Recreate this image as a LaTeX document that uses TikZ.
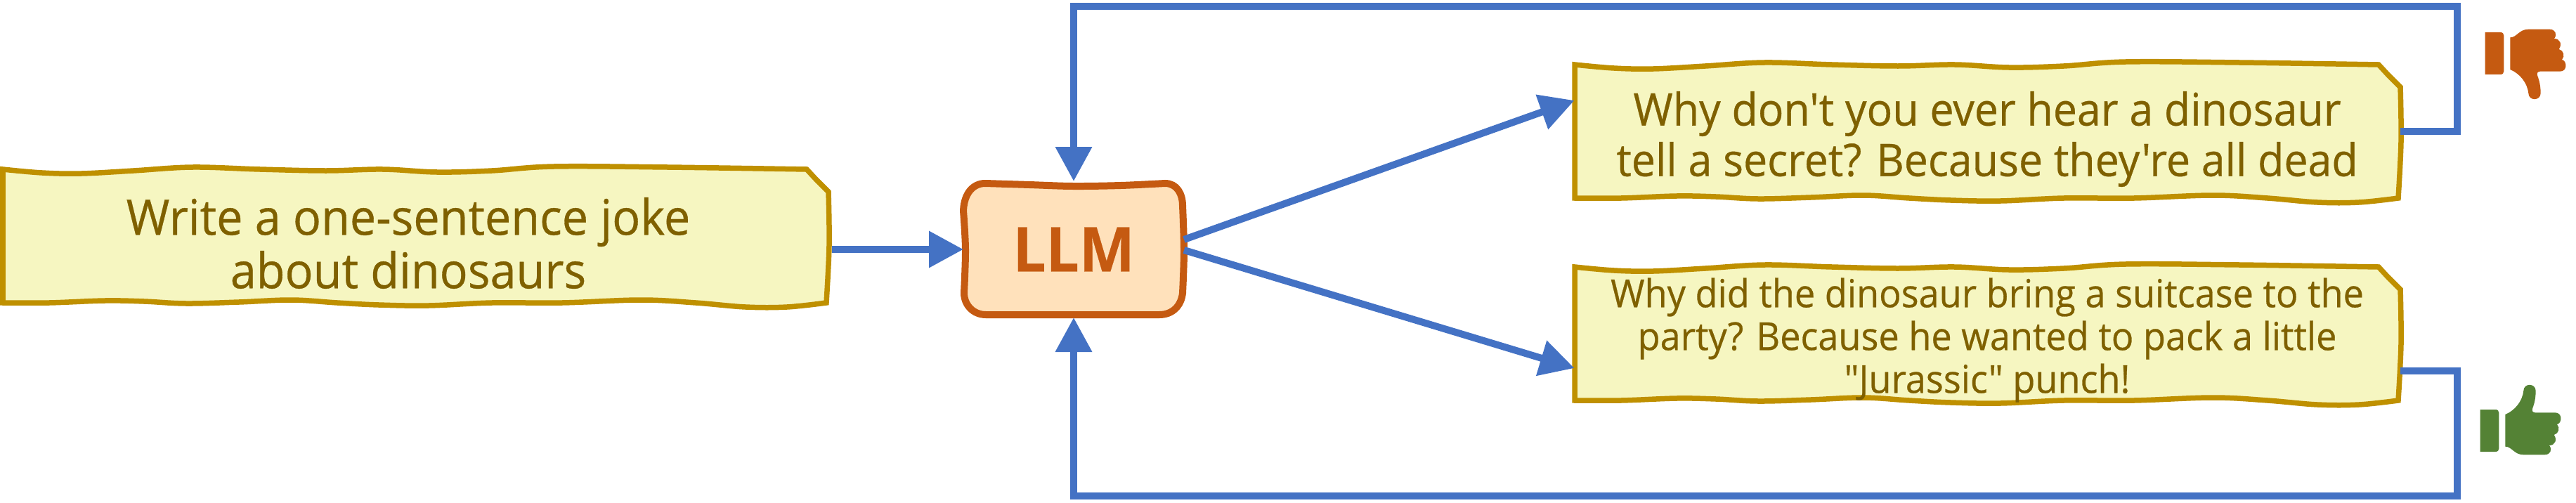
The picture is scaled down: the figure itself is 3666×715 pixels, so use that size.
\documentclass[tikz,border=0pt]{standalone}
\usepackage{fontspec}
\newfontfamily\notefont[FakeBold=0.5,FakeStretch=0.95]{Open Sans}
\newfontfamily\llmfont[FakeBold=0.3,FakeStretch=0.95]{Open Sans Bold}
\usetikzlibrary{arrows.meta}
\definecolor{noteF}{HTML}{F6F6C1}
\definecolor{noteD}{HTML}{BF9000}
\definecolor{noteT}{HTML}{7F6000}
\definecolor{llmF}{HTML}{FFE1BB}
\definecolor{llmD}{HTML}{C55A11}
\definecolor{flowC}{HTML}{4472C4}
\definecolor{upC}{HTML}{548235}
\tikzset{
  notepath/.style={fill=noteF,draw=noteD,line width=7.5pt,line join=miter},
  anchorbox/.style={inner sep=0pt,outer sep=0pt,minimum width=1175pt,minimum height=190pt},
  notetext/.style={text=noteT,align=center,inner sep=0pt},
  flow/.style={draw=flowC,line width=10pt,line join=miter,-{Triangle[length=49pt,width=50pt]}},
}
\newcommand{\wavynote}[2]{%
  \path[notepath,shift={(#1,#2)}]
    plot[smooth,tension=.6] coordinates {(4,241)(60,246)(116,247)(190,243)(274,238)(370,241)(464,243)(545,241)(622,245)(700,243)(788,237)(950,238)(1148,241)}
    -- (1161,255) -- (1179,273)
    -- plot[smooth,tension=.6] coordinates {(1179,273)(1180,350)(1176,431)}
    -- plot[smooth,tension=.6] coordinates {(1176,431)(1120,437)(1061,437)(990,431)(912,427)(800,431)(700,431)(610,435)(539,434)(480,431)(415,427)(340,430)(265,432)(205,429)(149,428)(70,431)(4,431)}
    -- cycle;}
\newcommand{\thumbshape}{%
  (170,78) -- (235,78) .. controls (245,78) and (250,84) .. (250,92) -- (250,244) .. controls (250,252) and (245,258) .. (235,258) -- (170,258) -- cycle
  (277,100) .. controls (305,100) and (315,65) .. (355,65) -- (445,65) .. controls (468,65) and (480,85) .. (465,105)
  .. controls (490,105) and (500,130) .. (485,150) .. controls (505,155) and (512,180) .. (498,195)
  .. controls (520,200) and (522,245) .. (490,245) -- (405,245) .. controls (395,245) and (390,252) .. (393,262)
  .. controls (402,285) and (407,310) .. (407,338) .. controls (407,372) and (355,372) .. (355,338)
  .. controls (350,295) and (320,255) .. (277,237) -- cycle}
\begin{document}
\begin{tikzpicture}[x=1pt,y=-1pt]
\useasboundingbox (0,0) rectangle (3666,715);
\wavynote{0}{0}
\wavynote{2237}{-149}
\wavynote{2237}{139}
\node[anchorbox] (b1) at (591,336) {};
\node[anchorbox] (b2) at (2828,187) {};
\node[anchorbox] (b3) at (2828,475) {};
\node[notetext,font=\notefont\fontsize{70}{76}\selectfont] (t1) at (581,346) {Write a one-sentence joke\\about dinosaurs};
\node[notetext,font=\notefont\fontsize{64}{72}\selectfont] (t2) at (2828,198) {Why don't you ever hear a dinosaur\\tell a secret? Because they're all dead};
\node[notetext,font=\notefont\fontsize{55}{61}\selectfont] (t3) at (2828,484) {Why did the dinosaur bring a suitcase to the\\party? Because he wanted to pack a little\\"Jurassic" punch!};
\path[fill=llmF,draw=llmD,line width=10pt]
  plot[smooth,tension=.55] coordinates {(1402,261)(1465,263)(1527,265)(1595,264)(1658,261)}
  .. controls (1675,261) and (1683,276) .. (1683,293)
  -- plot[smooth,tension=.55] coordinates {(1683,293)(1685,357)(1683,417)}
  .. controls (1681,436) and (1668,448) .. (1650,448)
  -- (1403,448)
  .. controls (1385,448) and (1372,434) .. (1372,417)
  -- plot[smooth,tension=.55] coordinates {(1372,417)(1374,355)(1371,300)}
  .. controls (1372,275) and (1385,261) .. (1402,261) -- cycle;
\node[inner sep=0pt,outer sep=0pt,minimum width=314pt,minimum height=194pt,text=llmD,font=\llmfont\fontsize{88}{88}\selectfont] (llm) at (1528,355) {LLM};
\coordinate (trc) at (3497,9);
\coordinate (brc) at (3497,706);
\coordinate (b1out) at ([xshift=5pt]b1.east);
\draw[flow] (b1out |- llm.west) -- (llm.west);
\draw[flow] ([yshift=14pt]llm.east) -- ([yshift=44pt]b2.west);
\draw[flow] ([yshift=-1pt]llm.east) -- ([yshift=-49pt]b3.west);
\draw[flow] (b2.east) -| (trc) -| (llm.north);
\draw[flow] ([yshift=-53pt]b3.east) -| (brc) -| (llm.south);
\fill[llmD,shift={(3480,20)},x=.3333pt,y=-.3333pt] \thumbshape;
\fill[upC,shift={(3473,669)},x=.3333pt,y=.3333pt] \thumbshape;
\end{tikzpicture}
\end{document}
